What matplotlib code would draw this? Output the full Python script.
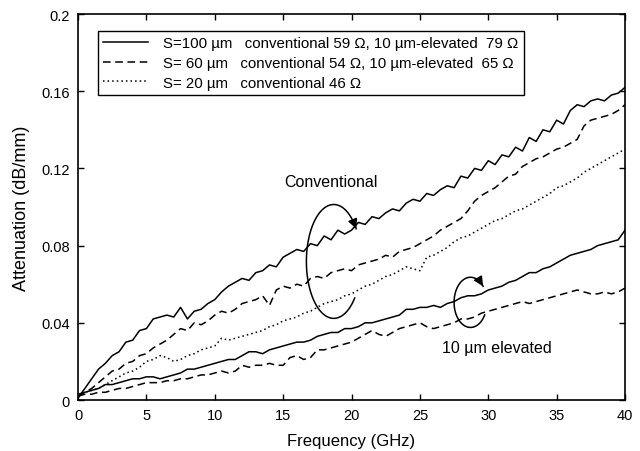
import numpy as np
import matplotlib
matplotlib.use("Agg")
import matplotlib.pyplot as plt

plt.rcParams['font.family'] = ['Liberation Sans', 'DejaVu Sans']

freq = np.arange(0, 40.01, 0.5)

conv_s100 = [0.001, 0.006, 0.011, 0.016, 0.019, 0.023, 0.025, 0.030, 0.031, 0.036,
             0.037, 0.042, 0.043, 0.044, 0.043, 0.048, 0.042, 0.046, 0.047, 0.050,
             0.052, 0.056, 0.059, 0.061, 0.063, 0.062, 0.066, 0.067, 0.070, 0.069,
             0.074, 0.076, 0.078, 0.077, 0.081, 0.080, 0.085, 0.083, 0.088, 0.086,
             0.088, 0.092, 0.091, 0.095, 0.094, 0.097, 0.099, 0.098, 0.102, 0.104,
             0.103, 0.107, 0.106, 0.109, 0.111, 0.110, 0.116, 0.115, 0.120, 0.119,
             0.124, 0.122, 0.127, 0.126, 0.131, 0.129, 0.136, 0.134, 0.140, 0.139,
             0.145, 0.143, 0.150, 0.153, 0.152, 0.155, 0.156, 0.155, 0.158, 0.159,
             0.162]

conv_s60 = [0.002, 0.004, 0.006, 0.009, 0.012, 0.015, 0.016, 0.019, 0.020, 0.023,
            0.024, 0.027, 0.029, 0.031, 0.034, 0.037, 0.036, 0.040, 0.039, 0.041,
            0.044, 0.046, 0.045, 0.047, 0.050, 0.051, 0.052, 0.054, 0.049, 0.057,
            0.059, 0.058, 0.060, 0.059, 0.063, 0.064, 0.063, 0.066, 0.067, 0.068,
            0.067, 0.070, 0.071, 0.072, 0.073, 0.075, 0.074, 0.077, 0.078, 0.079,
            0.081, 0.083, 0.085, 0.088, 0.090, 0.092, 0.094, 0.098, 0.103, 0.106,
            0.108, 0.110, 0.113, 0.116, 0.117, 0.121, 0.123, 0.125, 0.126, 0.128,
            0.130, 0.131, 0.133, 0.135, 0.142, 0.145, 0.146, 0.147, 0.148, 0.150,
            0.153]

conv_s20 = [0.002, 0.004, 0.005, 0.006, 0.008, 0.010, 0.012, 0.014, 0.015, 0.017,
            0.020, 0.021, 0.023, 0.022, 0.020, 0.021, 0.023, 0.024, 0.026, 0.027,
            0.028, 0.032, 0.031, 0.032, 0.033, 0.034, 0.035, 0.036, 0.038, 0.039,
            0.041, 0.042, 0.043, 0.045, 0.046, 0.048, 0.050, 0.051, 0.052, 0.054,
            0.055, 0.057, 0.059, 0.060, 0.062, 0.064, 0.065, 0.067, 0.069, 0.068,
            0.067, 0.074, 0.075, 0.077, 0.079, 0.082, 0.084, 0.085, 0.087, 0.089,
            0.091, 0.093, 0.094, 0.096, 0.098, 0.099, 0.101, 0.103, 0.105, 0.107,
            0.110, 0.111, 0.113, 0.115, 0.118, 0.120, 0.122, 0.124, 0.126, 0.128,
            0.130]

elev_s100 = [0.003, 0.004, 0.005, 0.006, 0.008, 0.008, 0.009, 0.010, 0.011, 0.011,
             0.012, 0.012, 0.011, 0.012, 0.013, 0.014, 0.016, 0.016, 0.017, 0.018,
             0.019, 0.020, 0.021, 0.021, 0.023, 0.025, 0.025, 0.024, 0.026, 0.027,
             0.028, 0.029, 0.030, 0.030, 0.031, 0.033, 0.034, 0.035, 0.035, 0.037,
             0.037, 0.038, 0.040, 0.040, 0.041, 0.042, 0.043, 0.044, 0.047, 0.047,
             0.048, 0.048, 0.049, 0.048, 0.050, 0.051, 0.053, 0.054, 0.054, 0.055,
             0.057, 0.058, 0.059, 0.061, 0.062, 0.064, 0.066, 0.066, 0.068, 0.069,
             0.071, 0.073, 0.075, 0.076, 0.077, 0.078, 0.080, 0.081, 0.082, 0.083,
             0.088]

elev_s60 = [0.002, 0.003, 0.003, 0.004, 0.004, 0.005, 0.006, 0.006, 0.007, 0.008,
            0.009, 0.009, 0.009, 0.010, 0.010, 0.011, 0.011, 0.012, 0.013, 0.013,
            0.014, 0.015, 0.014, 0.015, 0.018, 0.017, 0.018, 0.018, 0.019, 0.018,
            0.018, 0.022, 0.023, 0.021, 0.022, 0.026, 0.026, 0.027, 0.028, 0.029,
            0.030, 0.032, 0.034, 0.036, 0.034, 0.033, 0.035, 0.037, 0.038, 0.039,
            0.040, 0.038, 0.037, 0.038, 0.039, 0.040, 0.042, 0.042, 0.043, 0.045,
            0.046, 0.047, 0.048, 0.049, 0.050, 0.051, 0.050, 0.051, 0.052, 0.053,
            0.054, 0.055, 0.056, 0.057, 0.056, 0.055, 0.055, 0.056, 0.055, 0.056,
            0.058]

labels = ["S=100 \u00b5m   conventional 59 \u03a9, 10 \u00b5m-elevated  79 \u03a9",
          "S= 60 \u00b5m   conventional 54 \u03a9, 10 \u00b5m-elevated  65 \u03a9",
          "S= 20 \u00b5m   conventional 46 \u03a9"]

xticks = [0, 5, 10, 15, 20, 25, 30, 35, 40]
yticks = [0, 0.04, 0.08, 0.12, 0.16, 0.2]
ytick_labels = ["0", "0.04", "0.08", "0.12", "0.16", "0.2"]

fig = plt.figure(figsize=(6.4, 4.52), dpi=100)
ax = fig.add_axes([0.1219, 0.1128, 0.8547, 0.854])

lw = 1.1
ax.plot(freq, conv_s100, color='black', lw=lw, ls='-', label=labels[0])
ax.plot(freq, conv_s60, color='black', lw=lw, ls=(0, (5, 3)), label=labels[1])
ax.plot(freq, conv_s20, color='black', lw=lw, ls=(0, (1, 2)), label=labels[2])
ax.plot(freq, elev_s100, color='black', lw=lw, ls='-')
ax.plot(freq, elev_s60, color='black', lw=lw, ls=(0, (5, 3)))

ax.set_xlim(0, 40)
ax.set_ylim(0, 0.2)
ax.set_xticks(xticks)
ax.set_yticks(yticks)
ax.set_yticklabels(ytick_labels)
ax.tick_params(direction='in', top=True, right=True, length=4, width=1,
               labelsize=10.5, pad=6)
for s in ax.spines.values():
    s.set_linewidth(1.2)

ax.set_xlabel("Frequency (GHz)", fontsize=12, labelpad=8)
ax.set_ylabel("Attenuation (dB/mm)", fontsize=13, labelpad=8)

leg = ax.legend(loc='upper left', bbox_to_anchor=(0.0366, 0.956), borderaxespad=0,
                fancybox=False, edgecolor='black', framealpha=1, fontsize=10.8,
                handlelength=3.0, handletextpad=1.0, labelspacing=0.38,
                borderpad=0.35)
leg.get_frame().set_linewidth(1.0)

# Annotation loops
def loop(cx, cy, rx, ry, a0, a1):
    t = np.radians(np.linspace(a0, a1, 120))
    return cx + rx * np.cos(t), cy + ry * np.sin(t)

x1, y1 = loop(18.7, 0.0718, 2.0, 0.0295, -40, -325)
ax.plot(x1, y1, color='black', lw=1.1)
ax.annotate('', xy=(x1[-1], y1[-1]), xytext=(x1[-4], y1[-4]),
            arrowprops=dict(arrowstyle='-|>', color='black', lw=1.1,
                            mutation_scale=14, shrinkA=0, shrinkB=0))
ax.text(18.5, 0.113, "Conventional", fontsize=11.5, ha='center', va='center')

x2, y2 = loop(28.7, 0.0506, 1.2, 0.013, -30, -320)
ax.plot(x2, y2, color='black', lw=1.1)
ax.annotate('', xy=(x2[-1], y2[-1]), xytext=(x2[-4], y2[-4]),
            arrowprops=dict(arrowstyle='-|>', color='black', lw=1.1,
                            mutation_scale=14, shrinkA=0, shrinkB=0))
ax.text(30.6, 0.0274, "10 \u00b5m elevated", fontsize=11.5, ha='center', va='center')

fig.savefig("out.png", dpi=100)
